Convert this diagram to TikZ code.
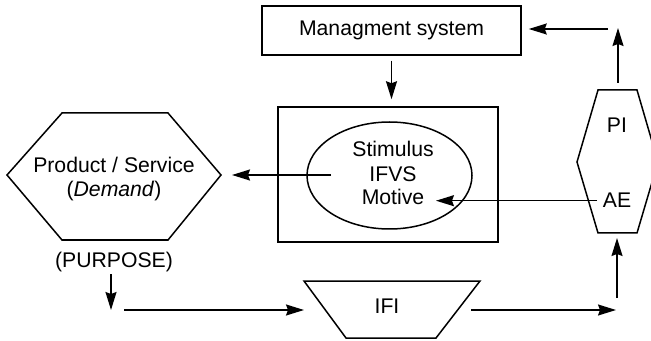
\documentclass[tikz,border=0pt]{standalone}
\usepackage{fontspec}
\setmainfont{Liberation Sans}
\usetikzlibrary{arrows.meta,shapes.geometric}
\begin{document}
\begin{tikzpicture}[x=0.5pt,y=-0.5pt,line width=0.75pt,
  lbl/.style={font=\fontsize{10.6}{12}\selectfont, inner sep=0pt, anchor=base},
  box/.style={draw, line width=0.75pt, inner sep=0pt, font=\fontsize{10.6}{12}\selectfont},
  arr/.style={-{Stealth[length=9pt,width=5.5pt,inset=1pt]}}]
\clip (0,0) rectangle (651,341);

% management block and the framed motive cell
\node[box, minimum width=129.5pt, minimum height=24.5pt] (mgmt) at (391.5,30.5) {Managment system};
\node[box, minimum width=110pt, minimum height=67.5pt] (frame) at (388,174.5) {};
\node[draw, ellipse, inner sep=0pt, minimum width=82.5pt, minimum height=53.5pt] (stim) at (389.5,175.5) {};
\node[lbl] (stimtxt) at (393,157) {Stimulus};
\node[lbl] (ifvs) at (393,182) {IFVS};
\node[lbl] (motive) at (393,205) {Motive};

% product / service hexagon
\coordinate (hexW) at (7,175);
\coordinate (hexE) at (221,175);
\draw (62,113) -- (168,113) -- (hexE) -- (168,240) -- (62,240) -- (hexW) -- cycle;
\node[lbl] (prod) at (114,173) {Product / Service};
\node[lbl] (dem) at (114,197) {(\textit{Demand})};
\node[lbl] (purpose) at (114,267) {(PURPOSE)};

% IFI trapezoid
\coordinate (ifiTL) at (304,281);
\coordinate (ifiTR) at (480,281);
\draw (ifiTL) -- (ifiTR) -- (436,338) -- (346,338) -- cycle;
\node[lbl] (ifi) at (387,313) {IFI};

% PI / AE cell
\coordinate (piT) at (617,90);
\coordinate (piB) at (617,233);
\draw (598,90) -- (637,90) -- (658,162) -- (637,233) -- (598,233) -- (577,162) -- cycle;
\node[lbl] (pi) at (617,133) {PI};
\node[lbl] (ae) at (617,208) {AE};

% connectors
\draw[arr, shorten <=2.5pt, shorten >=3.5pt] (mgmt.south) -- (mgmt.south |- frame.north);
\coordinate (stimL) at (331,175);
\draw[arr, shorten >=5.5pt] (stimL) -- (hexE);
\coordinate (dnTop) at (111,274);
\coordinate (turn) at (111,310);
\draw[arr] (dnTop) -- (turn);
\coordinate (runA) at (124,310);
\draw[arr] (runA) -- (ifiTL |- runA);
\coordinate (runB) at (471,310);
\coordinate (runC) at (616,310);
\draw[arr] (runB) -- (runC);
\coordinate (upA) at (617,298);
\draw[arr, shorten >=2.5pt] (upA) -- (piB);
\draw[arr, shorten <=2.5pt, shorten >=5.5pt] (ae.west) -- (ae.west -| motive.east);
\coordinate (upTop) at (618,28);
\draw[arr] (618,83) -- (upTop);
\coordinate (backA) at (608,29);
\draw[arr, shorten >=3.5pt] (backA) -- (backA -| mgmt.east);
\end{tikzpicture}
\end{document}
